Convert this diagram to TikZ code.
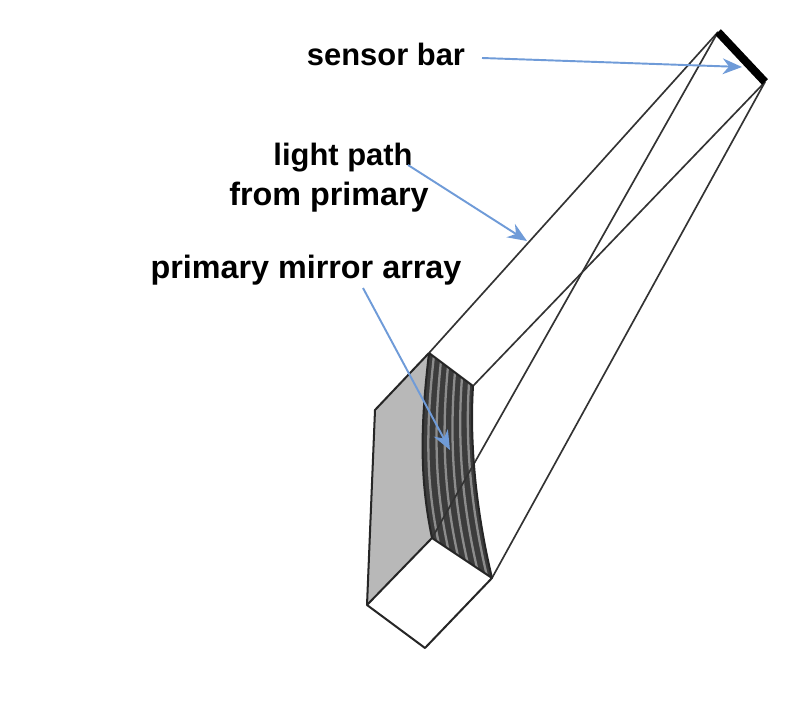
\documentclass[tikz,border=0pt]{standalone}
\usepackage{fontspec}
\setmainfont{Liberation Sans}
\usetikzlibrary{calc,arrows.meta}
\definecolor{pointer}{HTML}{6F9BD8}
\definecolor{sidegray}{HTML}{B8B8B8}
\definecolor{mirrordark}{HTML}{3C3C3C}
\definecolor{mirrorlight}{HTML}{8C8C8C}
\tikzset{
  px/.style={x=0.02cm,y=-0.02cm},
  edge/.style={draw=black!85,line width=1.15pt,line join=round},
  ray/.style={draw=black!80,line width=0.95pt},
  pointerarrow/.style={draw=pointer,line width=1.1pt,-{Stealth[length=11pt,width=9pt]}},
  lab/.style={font=\bfseries\fontsize{18.4}{20}\selectfont,text=black,inner sep=0pt,anchor=center},
  labsmall/.style={lab,font=\bfseries\fontsize{17.6}{20}\selectfont}
}
\begin{document}
\begin{tikzpicture}[px]
\useasboundingbox (0,0) rectangle (800,722);
% corners
\coordinate (A) at (429,353);
\coordinate (B) at (473,386);
\coordinate (C) at (375,410);
\coordinate (D) at (367,605);
\coordinate (E) at (432,538);
\coordinate (F) at (492,578);
\coordinate (G) at (425,648);
\coordinate (S1) at (718,32);
\coordinate (S2) at (765,82);
\coordinate (La1) at (420,430);
\coordinate (La2) at (420,480);
\coordinate (Ra1) at (469,450);
\coordinate (Ra2) at (478,520);
% faces
\fill[sidegray] (A) -- (C) -- (D) -- (E) .. controls (La2) and (La1) .. (A) -- cycle;
\fill[mirrordark] (A) .. controls (La1) and (La2) .. (E) -- (F) .. controls (Ra2) and (Ra1) .. (B) -- cycle;
\foreach \t in {0.11,0.27,0.43,0.59,0.75,0.91}{
  \draw[mirrorlight,line width=1.3pt]
    ($(A)!\t!(B)$) .. controls ($(La1)!\t!(Ra1)$) and ($(La2)!\t!(Ra2)$) .. ($(E)!\t!(F)$);
}
% rays
\draw[ray] (A) -- (S1);
\draw[ray] (B) -- (S2);
\draw[ray] (E) -- (S1);
\draw[ray] (F) -- (S2);
% outlines
\draw[edge] (A) -- (C) -- (D) -- (E) -- (F) -- (G) -- (D);
\draw[edge] (A) -- (B);
\draw[edge] (A) .. controls (La1) and (La2) .. (E);
\draw[edge] (B) .. controls (Ra1) and (Ra2) .. (F);
% sensor
\draw[black,line width=4.6pt] (S1) -- (S2);
% labels
\node[labsmall] (sensorlab) at (386,54) {sensor bar};
\node[labsmall] (pathlab1) at (343,158) {light path};
\node[lab] (pathlab2) at (329,197) {from primary};
\node[lab] (mirrorlab) at (306,270) {primary mirror array};
% pointers
\coordinate (p1s) at (482,58);
\coordinate (p1e) at (742,67);
\coordinate (p2s) at (408,165);
\coordinate (p2e) at (527,241);
\coordinate (p3s) at (363,288);
\coordinate (p3e) at (450,450);
\draw[pointerarrow] (p1s) -- (p1e);
\draw[pointerarrow] (p2s) -- (p2e);
\draw[pointerarrow] (p3s) -- (p3e);
\end{tikzpicture}
\end{document}
